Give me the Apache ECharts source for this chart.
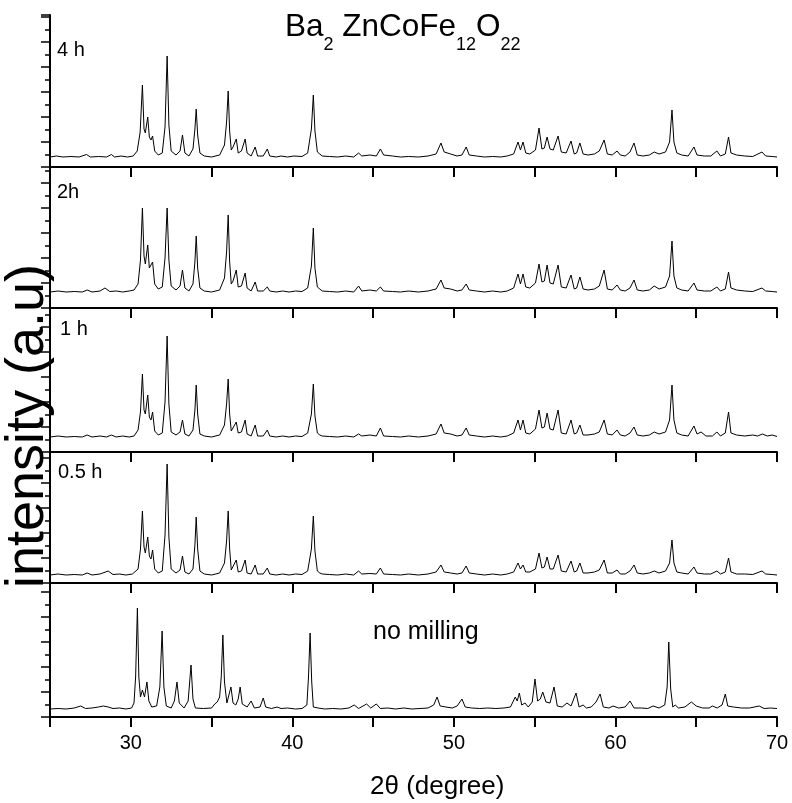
<!DOCTYPE html>
<html><head><meta charset="utf-8">
<script src="https://cdn.jsdelivr.net/npm/echarts@6/dist/echarts.min.js"></script>
<style>html,body{margin:0;padding:0;background:#fff}#c{width:792px;height:803px}</style>
</head><body><div id="c"></div>
<script>
// ---------- DATA ----------
const panelLabels = ['4 h', '2h', '1 h', '0.5 h', 'no milling'];
const xTickLabels = ['30', '40', '50', '60', '70'];
const xAxisTitle = '2\u03B8 (degree)';
const yAxisTitle = 'intensity (a.u)';

// [2theta, intensity (a.u.)]
const pattern4h = [
[25.0,10],[25.4,11],[25.8,10],[26.3,10.5],[26.8,10],[27.26,12.5],[27.5,10],[28.0,10.5],[28.5,10],[28.8,12.5],[29.0,10],[29.4,11],[29.8,10],[30.15,11],[30.4,16],[30.58,35],[30.72,82],[30.82,38],[30.9,34],[31.05,50],[31.15,30],[31.25,27],[31.35,31],[31.48,16],[31.7,12],[31.95,14],[32.12,40],[32.25,111],[32.36,42],[32.5,16],[32.8,12],[33.05,16],[33.2,32],[33.35,14],[33.6,11],[33.85,18],[33.97,38],[34.05,58],[34.14,32],[34.28,14],[34.4,16],[34.55,11],[35.0,10],[35.5,12],[35.8,22],[35.93,45],[36.03,76],[36.12,36],[36.22,17],[36.33,20],[36.53,28],[36.65,14],[36.85,16],[37.08,28],[37.2,14],[37.45,11],[37.7,20],[37.85,11],[38.2,11],[38.45,18],[38.6,11],[39.0,10],[39.3,11],[39.7,10],[40.1,11],[40.6,10.5],[40.95,14],[41.18,38],[41.3,72],[41.4,36],[41.55,15],[41.7,13],[41.85,11],[42.3,10.5],[42.8,10],[43.3,11],[43.8,10],[44.1,14],[44.3,11],[44.8,12],[45.2,11],[45.45,18],[45.65,12],[46.2,11],[46.7,10],[47.2,10.5],[47.8,10],[48.4,11],[48.9,13],[49.2,24],[49.4,15],[49.8,13],[50.2,11],[50.5,12],[50.76,20],[50.95,12],[51.4,11],[51.9,10],[52.4,10.5],[52.9,10],[53.3,11],[53.7,13],[53.97,25],[54.12,17],[54.28,25],[54.45,14],[54.7,13],[55.05,17],[55.27,39],[55.45,18],[55.6,19],[55.77,30],[55.95,18],[56.15,17],[56.45,31],[56.65,15],[56.95,14],[57.25,26],[57.45,13],[57.6,14],[57.8,24],[58.0,13],[58.3,12],[58.7,13],[59.0,16],[59.3,27],[59.5,13],[59.8,12],[60.1,16],[60.3,12],[60.6,11],[60.9,15],[61.15,24],[61.35,12],[61.7,11],[62.1,12],[62.4,15],[62.7,13],[63.1,15],[63.35,25],[63.5,57],[63.62,25],[63.8,14],[64.1,12],[64.5,11],[64.86,20],[65.05,12],[65.5,11],[65.9,11],[66.28,16],[66.5,11],[66.8,13],[67.0,30],[67.15,14],[67.5,12],[68.0,11],[68.5,10.5],[69.07,15],[69.3,11],[69.7,10.5],[70.0,10]
];
const pattern2h = [
[25.0,16],[25.5,17],[26.0,16],[26.5,16.5],[27.0,16],[27.3,18],[27.6,16],[28.1,17],[28.4,20],[28.7,16.5],[29.1,17],[29.5,16],[29.9,17],[30.2,18],[30.45,24],[30.6,48],[30.72,100],[30.82,52],[30.9,44],[31.05,63],[31.15,40],[31.25,38],[31.35,46],[31.48,24],[31.7,19],[31.95,21],[32.12,50],[32.25,100],[32.36,48],[32.5,22],[32.8,18],[33.05,22],[33.2,38],[33.35,20],[33.6,17],[33.85,24],[33.97,46],[34.05,72],[34.14,40],[34.28,20],[34.4,22],[34.55,17],[35.0,16],[35.5,18],[35.8,30],[35.93,56],[36.03,93],[36.12,46],[36.22,24],[36.33,27],[36.53,38],[36.65,21],[36.85,22],[37.08,35],[37.2,20],[37.45,17],[37.7,26],[37.85,17],[38.2,17],[38.45,21],[38.6,17],[39.0,16],[39.4,17],[39.8,16],[40.2,17],[40.6,16.5],[40.95,20],[41.18,42],[41.3,80],[41.4,40],[41.55,21],[41.7,19],[41.85,17],[42.3,16.5],[42.8,16],[43.3,17],[43.8,16],[44.1,22],[44.3,17],[44.8,18],[45.2,17],[45.45,21],[45.65,17],[46.2,16.5],[46.7,16],[47.2,17],[47.8,16],[48.4,17],[48.9,19],[49.2,28],[49.4,20],[49.8,19],[50.2,17],[50.5,18],[50.76,24],[50.95,18],[51.4,17],[51.9,16],[52.4,17],[52.9,16],[53.3,17],[53.7,20],[53.97,34],[54.12,24],[54.28,34],[54.45,21],[54.7,20],[55.05,25],[55.27,44],[55.45,26],[55.6,27],[55.77,43],[55.95,25],[56.15,24],[56.45,43],[56.65,21],[56.95,20],[57.25,33],[57.45,19],[57.6,20],[57.8,31],[58.0,19],[58.3,18],[58.7,19],[59.0,22],[59.3,38],[59.5,19],[59.8,18],[60.1,23],[60.3,18],[60.6,17],[60.9,20],[61.15,28],[61.35,18],[61.7,17],[62.1,18],[62.4,22],[62.7,19],[63.1,21],[63.35,32],[63.5,67],[63.62,32],[63.8,20],[64.1,18],[64.5,17],[64.86,25],[65.05,18],[65.5,17],[65.9,17],[66.28,21],[66.5,17],[66.8,19],[67.0,36],[67.15,20],[67.5,18],[68.0,17],[68.5,16.5],[69.07,20],[69.3,17],[69.7,16.5],[70.0,16]
];
const pattern1h = [
[25.0,15],[25.5,16],[26.0,15],[26.5,15.5],[27.0,15],[27.3,17],[27.6,15],[28.1,16],[28.5,15],[28.8,17],[29.1,15],[29.5,16],[29.9,15],[30.2,16],[30.45,22],[30.6,40],[30.72,78],[30.82,42],[30.9,38],[31.05,57],[31.15,35],[31.25,32],[31.35,40],[31.48,21],[31.7,17],[31.95,19],[32.12,50],[32.25,116],[32.36,48],[32.5,20],[32.8,17],[33.05,20],[33.2,32],[33.35,18],[33.6,16],[33.85,22],[33.97,42],[34.05,67],[34.14,38],[34.28,18],[34.4,20],[34.55,16],[35.0,15],[35.5,17],[35.8,27],[35.93,48],[36.03,73],[36.12,38],[36.22,21],[36.33,23],[36.53,30],[36.65,19],[36.85,20],[37.08,32],[37.2,18],[37.45,16],[37.7,27],[37.85,16],[38.2,16],[38.45,22],[38.6,16],[39.0,15],[39.4,16],[39.8,15],[40.2,16],[40.6,15.5],[40.95,19],[41.18,38],[41.3,68],[41.4,36],[41.55,19],[41.7,17],[41.85,16],[42.3,15.5],[42.8,15],[43.3,16],[43.8,15],[44.1,18],[44.3,16],[44.8,17],[45.2,16],[45.45,24],[45.65,16],[46.2,15.5],[46.7,15],[47.2,16],[47.8,15],[48.4,16],[48.9,18],[49.2,28],[49.4,19],[49.8,18],[50.2,16],[50.5,17],[50.76,24],[50.95,17],[51.4,16],[51.9,15],[52.4,16],[52.9,15],[53.3,16],[53.7,19],[53.97,32],[54.12,22],[54.28,32],[54.45,19],[54.7,18],[55.05,23],[55.27,42],[55.45,24],[55.6,25],[55.77,39],[55.95,23],[56.15,22],[56.45,42],[56.65,19],[56.95,18],[57.25,32],[57.45,18],[57.6,19],[57.8,27],[58.0,17],[58.3,17],[58.7,18],[59.0,20],[59.3,32],[59.5,18],[59.8,17],[60.1,22],[60.3,17],[60.6,16],[60.9,19],[61.15,25],[61.35,17],[61.7,16],[62.1,17],[62.4,20],[62.7,18],[63.1,20],[63.35,32],[63.5,67],[63.62,32],[63.8,19],[64.1,17],[64.5,16],[64.86,26],[65.05,18],[65.3,20],[65.6,16],[66.0,16],[66.28,20],[66.5,16],[66.8,19],[67.0,40],[67.15,19],[67.5,17],[68.0,16],[68.5,17],[68.8,16],[69.1,18],[69.4,16],[69.7,17],[70.0,15.5]
];
const pattern05h = [
[25.0,8],[25.5,9],[26.0,8],[26.5,8.5],[27.0,8],[27.3,10],[27.6,8],[28.1,9],[28.6,12],[28.9,8.5],[29.3,9],[29.7,8],[30.1,9],[30.45,14],[30.6,34],[30.72,72],[30.82,36],[30.9,30],[31.05,46],[31.15,27],[31.25,24],[31.35,33],[31.48,14],[31.7,10],[31.95,12],[32.12,48],[32.25,119],[32.36,46],[32.5,14],[32.8,10],[33.05,13],[33.2,27],[33.35,11],[33.6,9],[33.85,14],[33.97,38],[34.05,66],[34.14,34],[34.28,12],[34.4,13],[34.55,9],[35.0,8],[35.5,10],[35.8,20],[35.93,42],[36.03,72],[36.12,34],[36.22,13],[36.33,15],[36.53,23],[36.65,11],[36.85,12],[37.08,23],[37.2,10],[37.45,9],[37.7,18],[37.85,9],[38.2,9],[38.45,15],[38.6,9],[39.0,8],[39.4,9],[39.8,8],[40.2,9],[40.6,8.5],[40.95,12],[41.18,34],[41.3,67],[41.4,32],[41.55,12],[41.7,10],[41.85,9],[42.3,8.5],[42.8,8],[43.3,9],[43.8,8],[44.1,12],[44.3,9],[44.8,9.5],[45.2,9],[45.45,15],[45.65,9],[46.2,8.5],[46.7,8],[47.2,9],[47.8,8],[48.4,9],[48.9,11],[49.2,18],[49.4,11],[49.8,10],[50.2,9],[50.5,10],[50.76,17],[50.95,10],[51.4,9],[51.9,8],[52.4,9],[52.9,8],[53.3,9],[53.7,11],[53.97,20],[54.12,14],[54.28,18],[54.45,11],[54.7,11],[55.05,14],[55.27,30],[55.45,15],[55.6,16],[55.77,26],[55.95,14],[56.15,14],[56.45,28],[56.65,12],[56.95,11],[57.25,22],[57.45,11],[57.6,12],[57.8,20],[58.0,10],[58.3,10],[58.7,11],[59.0,13],[59.3,23],[59.5,10],[59.8,10],[60.1,13],[60.3,9],[60.6,9],[60.9,12],[61.15,18],[61.35,10],[61.7,9],[62.1,10],[62.4,12],[62.7,10],[63.1,12],[63.35,20],[63.5,43],[63.62,20],[63.8,11],[64.1,10],[64.5,9],[64.86,16],[65.05,10],[65.5,9],[65.9,9],[66.28,12],[66.5,9],[66.8,11],[67.0,25],[67.15,11],[67.5,9],[68.0,9],[68.5,8.5],[69.07,12],[69.3,9],[69.7,8.5],[70.0,8]
];
const patternNoMilling = [
[25.0,8],[25.5,8.5],[26.0,8],[26.5,9],[26.9,11],[27.2,8.5],[27.6,9],[28.0,10],[28.3,11],[28.6,10],[28.9,8.5],[29.3,9],[29.7,8],[30.05,9],[30.2,14],[30.3,40],[30.41,109],[30.5,40],[30.6,20],[30.72,27],[30.85,20],[31.0,35],[31.12,16],[31.3,10],[31.6,11],[31.8,30],[31.94,86],[32.05,30],[32.2,11],[32.5,9],[32.7,16],[32.86,35],[33.0,14],[33.3,9],[33.55,16],[33.73,52],[33.85,18],[34.0,9],[34.5,8.5],[35.0,9],[35.2,13],[35.35,15],[35.5,20],[35.6,40],[35.7,82],[35.8,35],[35.95,14],[36.05,16],[36.2,30],[36.33,14],[36.5,12],[36.65,18],[36.77,30],[36.9,13],[37.2,10],[37.45,16],[37.65,9],[38.0,10],[38.2,19],[38.35,10],[38.7,8.5],[39.06,10],[39.3,8.5],[39.7,9],[40.2,8],[40.6,8.5],[40.9,12],[41.0,40],[41.1,84],[41.2,35],[41.3,10],[41.6,9],[42.0,8],[42.5,8.5],[43.0,8],[43.5,9],[43.83,12],[44.1,8.5],[44.6,13],[44.85,9],[45.2,13],[45.45,8.5],[45.9,9],[46.4,8],[46.9,9],[47.4,8],[47.9,8.5],[48.4,9],[48.75,12],[48.96,20],[49.15,11],[49.5,10],[49.9,9],[50.2,11],[50.5,18],[50.7,10],[51.1,9],[51.6,8.5],[52.1,9],[52.6,8.5],[53.1,9],[53.5,10],[53.8,20],[53.92,16],[54.05,24],[54.2,12],[54.4,14],[54.6,10],[54.85,15],[55.02,38],[55.18,16],[55.35,18],[55.5,25],[55.7,15],[55.95,14],[56.2,30],[56.4,11],[56.7,10],[57.0,14],[57.25,11],[57.56,24],[57.75,10],[58.0,12],[58.2,9],[58.5,10],[58.8,15],[58.9,13],[59.05,23],[59.25,10],[59.6,9],[59.85,11],[60.2,9],[60.6,10],[60.9,16],[61.15,9],[61.6,9],[62.0,8.5],[62.33,11],[62.7,9],[63.05,12],[63.2,30],[63.3,75],[63.42,28],[63.55,10],[63.7,12],[63.9,9],[64.3,10],[64.7,15],[65.0,11],[65.4,9],[65.8,9],[66.0,11],[66.3,9],[66.6,12],[66.8,23],[66.95,11],[67.3,10],[67.8,9],[68.3,9],[68.9,11],[69.2,8.5],[69.6,9],[70.0,8.5]
];
const patterns = [pattern4h, pattern2h, pattern1h, pattern05h, patternNoMilling];

// ---------- LAYOUT ----------
const FONT = '"Liberation Sans", Arial, Helvetica, sans-serif';
const tops = [15, 167, 308, 452, 583];
const heights = [152, 141, 144, 131, 134];
const labelPos = [[57, 50], [57, 192], [60, 329], [58, 472], [373, 632]];
const labelSize = [20, 20, 20, 20, 25];

const chart = echarts.init(document.getElementById('c'), null, {renderer: 'canvas'});
const last = tops.length - 1;
const option = {
  animation: false,
  backgroundColor: '#fff',
  grid: tops.map((t, i) => ({left: 50, right: 15, top: t, height: heights[i], containLabel: false})),
  xAxis: tops.map((t, i) => ({
    type: 'value', gridIndex: i, min: 25, max: 70, interval: 5,
    axisLine: {show: true, onZero: false, lineStyle: {color: '#000', width: 2}},
    axisTick: {show: true, inside: false, length: 10, lineStyle: {color: '#000', width: 2}},
    axisLabel: {show: i === last, margin: 16, fontSize: 20, color: '#000', fontFamily: FONT,
      formatter: v => xTickLabels.includes(String(v)) ? String(v) : ''},
    splitLine: {show: false}
  })),
  yAxis: tops.map((t, i) => ({
    type: 'value', gridIndex: i, min: 0, max: heights[i], interval: 25,
    axisLine: {show: true, lineStyle: {color: '#000', width: 2}},
    axisTick: {show: true, inside: false, length: 9, lineStyle: {color: '#000', width: 1.5}},
    minorTick: {show: true, splitNumber: 2, length: 5, lineStyle: {color: '#000', width: 1.5}},
    axisLabel: {show: false},
    splitLine: {show: false}
  })),
  series: patterns.map((d, i) => ({
    type: 'line', xAxisIndex: i, yAxisIndex: i, data: d,
    symbol: 'none', showSymbol: false, smooth: false, silent: true,
    lineStyle: {color: '#000', width: 1}
  })),
  graphic: [
    {type: 'text', left: 285, top: 11, style: {
      text: '{m|Ba}{s|2}{m| ZnCoFe}{s|12}{m|O}{s|22}{h| }',
      rich: {
        m: {fontSize: 31.5, lineHeight: 31, verticalAlign: 'top', fontFamily: FONT, fill: '#000'},
        s: {fontSize: 18, lineHeight: 18, verticalAlign: 'bottom', fontFamily: FONT, fill: '#000'},
        h: {fontSize: 1, lineHeight: 43, fontFamily: FONT}
      }}},
    ...panelLabels.map((s, i) => ({type: 'text', x: labelPos[i][0], y: labelPos[i][1],
      style: {text: s, fontSize: labelSize[i], fontFamily: FONT, fill: '#000', align: 'left', verticalAlign: 'middle'}})),
    {type: 'text', x: 370, y: 787, style: {text: xAxisTitle, fontSize: 26, fontFamily: FONT, fill: '#000', align: 'left', verticalAlign: 'middle'}},
    {type: 'text', x: 28, y: 426, rotation: Math.PI / 2,
      style: {text: yAxisTitle, fontSize: 54, fontFamily: FONT, fill: '#000', align: 'center', verticalAlign: 'middle'}}
  ]
};
chart.setOption(option);
</script>
</body></html>
